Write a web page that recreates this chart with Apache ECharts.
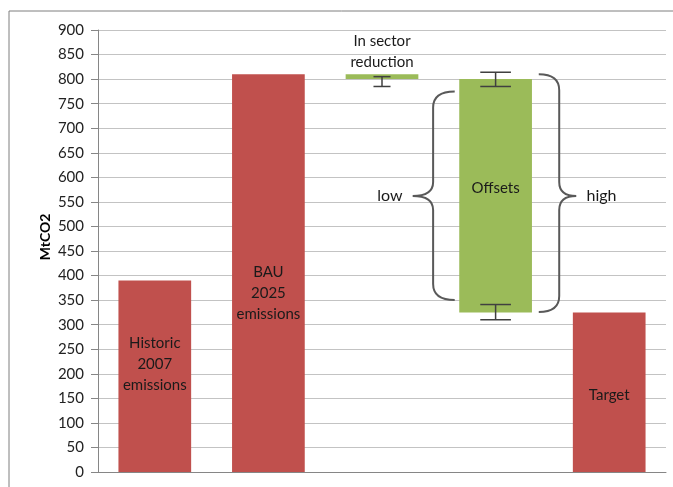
<!DOCTYPE html>
<html><head><meta charset="utf-8">
<script src="https://cdn.jsdelivr.net/npm/echarts@6/dist/echarts.min.js"></script>
<style>html,body{margin:0;padding:0;background:#fff}#c{width:673px;height:487px}</style>
</head><body><div id="c"></div>
<script>
// ---- data ----
const categories = ['Historic 2007 emissions','BAU 2025 emissions','In sector reduction','Offsets','Target'];
const barBase = [0, 0, 800, 325, 0];
const barTop  = [390, 810, 810, 800, 325];
const barKind = ['red','red','green','green','red'];
const yTicks = {min: 0, max: 900, interval: 50};
// error bars: [categoryIndex, low, high]
const errorBars = [[2, 785, 805], [3, 785, 814], [3, 310, 341]];
// braces: [categoryIndex, low, high, middle, side]
const braces = [[3, 350, 775, 562, -1], [3, 326, 810, 562, 1]];
// annotations: [categoryIndex, value, text]
const barLabels = [
  [0, 220, 'Historic\n2007\nemissions'],
  [1, 365, 'BAU\n2025\nemissions'],
  [2, 855, 'In sector\nreduction'],
  [3, 578, 'Offsets'],
  [4, 157, 'Target']
];
const braceLabels = [[3, 562, 'low', -1], [3, 562, 'high', 1]];

// ---- styles ----
const COLORS = {red: '#C0504D', green: '#9BBB59'};
const FONT = 'Lato, "Open Sans", sans-serif';
const capHalf = [0.075, 0.135, 0.135];

const chart = echarts.init(document.getElementById('c'));
chart.setOption({
  animation: false,
  grid: {left: 98, right: 7, top: 30, bottom: 15, containLabel: false},
  xAxis: {
    type: 'category', data: categories,
    axisLine: {show: true, lineStyle: {color: '#868686'}},
    axisTick: {show: false}, axisLabel: {show: false}
  },
  yAxis: {
    type: 'value', min: yTicks.min, max: yTicks.max, interval: yTicks.interval,
    axisLine: {show: true, lineStyle: {color: '#868686'}},
    axisTick: {show: true, length: 7, lineStyle: {color: '#868686'}},
    axisLabel: {color: '#222', fontFamily: FONT, fontSize: 15, margin: 14},
    splitLine: {lineStyle: {color: '#c3c3c3', width: 1}}
  },
  graphic: [
    {type: 'rect', shape: {x: 9, y: 11, width: 700, height: 500}, style: {fill: 'none', stroke: '#7f7f7f', lineWidth: 1}, silent: true},
    {type: 'text', x: 45, y: 237, rotation: Math.PI / 2, style: {text: 'MtCO2', font: 'bold 14px ' + FONT, fill: '#000', align: 'center', verticalAlign: 'middle'}}
  ],
  series: [
    {type: 'bar', stack: 'w', barWidth: '64%', silent: true,
     itemStyle: {color: 'transparent'}, data: barBase},
    {type: 'bar', stack: 'w', barWidth: '64%',
     data: barTop.map((t, i) => ({value: t - barBase[i], itemStyle: {color: COLORS[barKind[i]]}}))},
    {type: 'custom', data: errorBars, z: 5,
     renderItem: function (params, api) {
       const c = api.value(0);
       const p1 = api.coord([c, api.value(1)]);
       const p2 = api.coord([c, api.value(2)]);
       const band = api.size([1, 0])[0];
       const h = band * capHalf[params.dataIndex];
       const st = {stroke: '#404040', lineWidth: 1.5};
       return {type: 'group', children: [
         {type: 'line', shape: {x1: p1[0], y1: p1[1], x2: p2[0], y2: p2[1]}, style: st},
         {type: 'line', shape: {x1: p1[0] - h, y1: p1[1], x2: p1[0] + h, y2: p1[1]}, style: st},
         {type: 'line', shape: {x1: p2[0] - h, y1: p2[1], x2: p2[0] + h, y2: p2[1]}, style: st}
       ]};
     }},
    {type: 'custom', data: braces, z: 5,
     renderItem: function (params, api) {
       const c = api.value(0), side = api.value(4);
       const band = api.size([1, 0])[0];
       const cx = api.coord([c, 0])[0];
       const yLo = api.coord([c, api.value(1)])[1];
       const yHi = api.coord([c, api.value(2)])[1];
       const yMid = api.coord([c, api.value(3)])[1];
       let xEnd, xLine, xTip;
       if (side < 0) { xEnd = cx - 0.36 * band; xLine = cx - 0.55 * band; xTip = cx - 0.73 * band; }
       else { xEnd = cx + 0.38 * band; xLine = cx + 0.56 * band; xTip = cx + 0.71 * band; }
       const r = 16, r2 = 14;
       const path = `M${xEnd},${yHi} Q${xLine},${yHi} ${xLine},${yHi + r} L${xLine},${yMid - r2} Q${xLine},${yMid} ${xTip},${yMid} Q${xLine},${yMid} ${xLine},${yMid + r2} L${xLine},${yLo - r} Q${xLine},${yLo} ${xEnd},${yLo}`;
       return {type: 'path', shape: {pathData: path}, style: {fill: 'none', stroke: '#595959', lineWidth: 2}};
     }},
    {type: 'custom', data: barLabels, z: 6,
     renderItem: function (params, api) {
       const p = api.coord([api.value(0), api.value(1)]);
       return {type: 'text', x: p[0], y: p[1], style: {
         text: barLabels[params.dataIndex][2], font: '15px ' + FONT, fill: '#1a1a1a',
         align: 'center', verticalAlign: 'middle', lineHeight: 21}};
     }},
    {type: 'custom', data: braceLabels, z: 6,
     renderItem: function (params, api) {
       const d = braceLabels[params.dataIndex];
       const band = api.size([1, 0])[0];
       const p = api.coord([d[0], d[1]]);
       const x = d[3] < 0 ? p[0] - 0.82 * band : p[0] + 0.8 * band;
       return {type: 'text', x: x, y: p[1], style: {
         text: d[2], font: '16px ' + FONT, fill: '#1a1a1a',
         align: d[3] < 0 ? 'right' : 'left', verticalAlign: 'middle'}};
     }}
  ]
});
</script>
</body></html>
